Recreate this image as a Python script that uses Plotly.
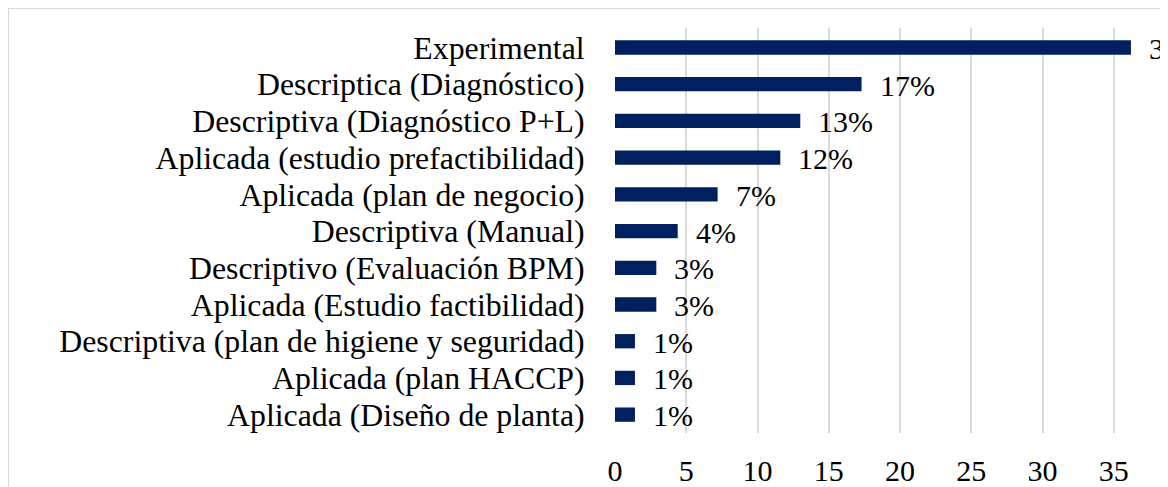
import plotly.graph_objects as go

categories = [
    "Experimental",
    "Descriptica (Diagnóstico)",
    "Descriptiva (Diagnóstico P+L)",
    "Aplicada (estudio prefactibilidad)",
    "Aplicada (plan de negocio)",
    "Descriptiva (Manual)",
    "Descriptivo (Evaluación BPM)",
    "Aplicada (Estudio factibilidad)",
    "Descriptiva (plan de higiene y seguridad)",
    "Aplicada (plan HACCP)",
    "Aplicada (Diseño de planta)",
]
values = [36.2, 17.3, 13.0, 11.6, 7.2, 4.4, 2.9, 2.9, 1.4, 1.4, 1.4]
value_labels = ["36%", "17%", "13%", "12%", "7%", "4%", "3%", "3%", "1%", "1%", "1%"]
tick_vals = [0, 5, 10, 15, 20, 25, 30, 35]

FONT = "Liberation Serif, Times New Roman, serif"

fig = go.Figure()
fig.add_trace(go.Bar(
    x=values, y=categories, orientation="h",
    marker=dict(color="#002060", line=dict(width=0)),
    width=0.39, hoverinfo="x+y",
))

for c, v, t in zip(categories, values, value_labels):
    fig.add_annotation(x=v, y=c, text=t, showarrow=False, xanchor="left",
                       xshift=16, yshift=-1, font=dict(family=FONT, size=30, color="#000000"))

# page body has an 8px margin: figure origin sits at window (8, 8)
W, H = 1160, 479
L, R, T, B = 607, 0, 20, 54
pw, ph = W - L - R, H - T - B
def px(xp):
    return (xp - L) / pw
def py(yp):
    return (H - B - yp) / ph
fig.add_shape(type="line", xref="paper", yref="paper", x0=px(0), x1=px(W + 10), y0=py(0.5), y1=py(0.5),
              line=dict(color="#d9d9d9", width=1))
fig.add_shape(type="line", xref="paper", yref="paper", x0=px(0.5), x1=px(0.5), y0=py(0), y1=py(H + 10),
              line=dict(color="#d9d9d9", width=1))

fig.update_layout(
    width=W, height=H,
    margin=dict(l=L, r=R, t=T, b=B, autoexpand=False),
    paper_bgcolor="white", plot_bgcolor="white",
    showlegend=False,
    font=dict(family=FONT, size=30, color="#000000"),
    xaxis=dict(range=[0, 38.8], tickvals=tick_vals, showgrid=True, gridcolor="#d9d9d9", gridwidth=1.5,
               zeroline=False, showline=False, ticks="outside", ticklen=11, tickcolor="rgba(0,0,0,0)",
               tickfont=dict(family=FONT, size=30, color="#000000"), automargin=False),
    yaxis=dict(autorange="reversed", showgrid=False, zeroline=False, showline=False,
               tickmode="array", tickvals=categories, ticktext=categories,
               ticks="outside", ticklen=23, tickcolor="rgba(0,0,0,0)",
               tickfont=dict(family=FONT, size=31.8, color="#000000"), automargin=False),
)

fig.write_html("out.html")
